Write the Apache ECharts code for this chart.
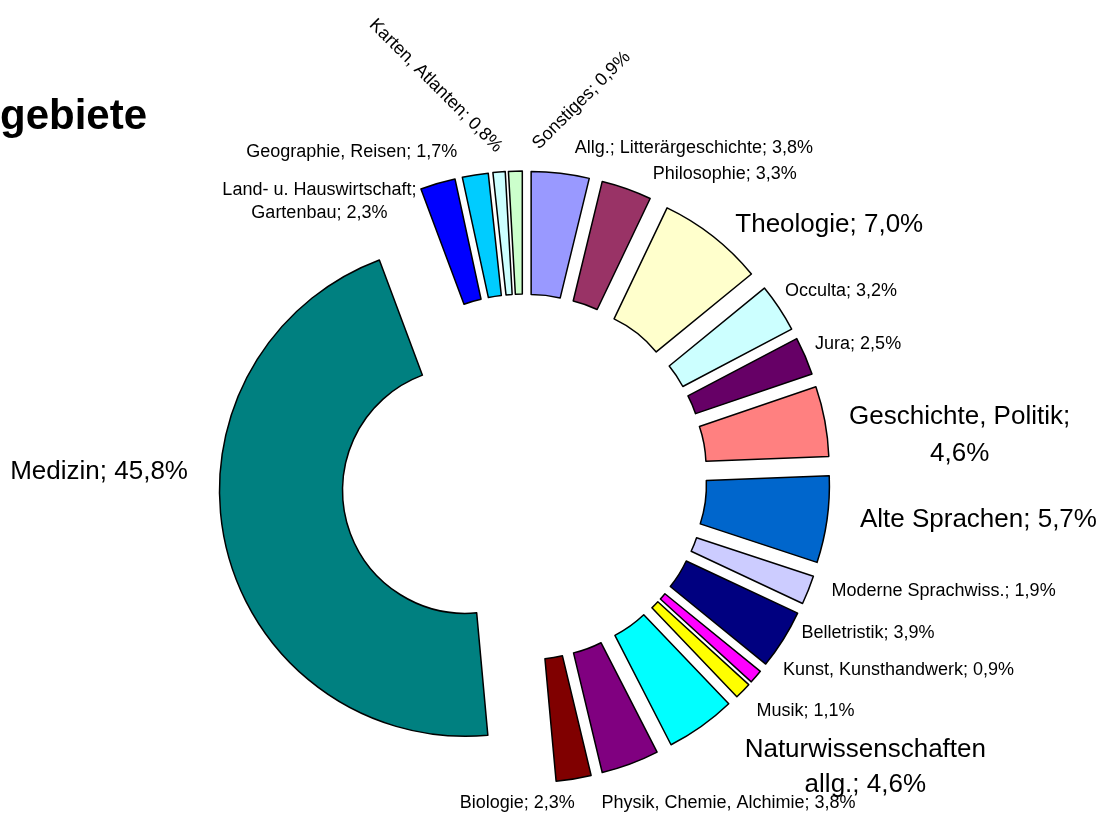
<!DOCTYPE html>
<html>
<head>
<meta charset="utf-8">
<script src="https://cdn.jsdelivr.net/npm/echarts@6/dist/echarts.min.js"></script>
<style>
	html, body { margin: 0; padding: 0; background: #fff; }
	#pie { width: 1105px; height: 814px; }
</style>
</head>
<body>
<div id="pie"></div>
<script>
//Kategorien (im Uhrzeigersinn ab 12 Uhr)
var names = [
	'Allg.; Litterärgeschichte','Philosophie','Theologie','Occulta','Jura',
	'Geschichte, Politik','Alte Sprachen','Moderne Sprachwiss.','Belletristik',
	'Kunst, Kunsthandwerk','Musik','Naturwissenschaften allg.','Physik, Chemie, Alchimie',
	'Biologie','Medizin','Land- u. Hauswirtschaft; Gartenbau','Geographie, Reisen',
	'Karten, Atlanten','Sonstiges'
];
//Anteile in %
var values = [
	3.8, 3.3, 7.0, 3.2, 2.5,
	4.6, 5.7, 1.9, 3.9,
	0.9, 1.1, 4.6, 3.8,
	2.3, 45.8, 2.3, 1.7,
	0.8, 0.9
];
var colors = [
	'#9999ff','#993366','#ffffcc','#ccffff','#660066',
	'#ff8080','#0066cc','#ccccff','#000080',
	'#ff00ff','#ffff00','#00ffff','#800080',
	'#800000','#008080','#0000ff','#00ccff',
	'#ccffff','#ccffcc'
];

//große Beschriftungen
var bigLabels = [2, 5, 6, 11, 14];
//Zeilenumbruch nach diesem Text
var labelBreak = {
	5: 'Politik; ',
	11: 'Naturwissenschaften ',
	15: 'Hauswirtschaft; '
};
//Verschiebung / Ausrichtung der Beschriftungen (bei gedrehten Texten im gedrehten System)
var labelOffsets = {
	0:  { dx: 8,    dy: -13 },
	1:  { dx: 17,   dy: -3 },
	2:  { dx: 10,   dy: -2 },
	3:  { dx: -9,   dy: -10 },
	4:  { dx: -6,   dy: -7 },
	5:  { dx: 118,  dy: 16,  align: 'center', lineHeight: 37 },
	6:  { dx: 16,   dy: -1 },
	7:  { dx: 7,    dy: -3 },
	8:  { dx: 3,    dy: -13 },
	9:  { dx: 13,   dy: -14 },
	10: { dx: 0,    dy: 12 },
	11: { dx: 152,  dy: 31,  align: 'center', lineHeight: 35 },
	12: { dx: -38,  dy: 28 },
	13: { dx: -121, dy: 12 },
	14: { dx: -21,  dy: -76 },
	15: { dx: -110, dy: 30,  align: 'center', lineHeight: 23 },
	16: { dx: -11,  dy: -11 },
	17: { dx: -3,   dy: -12, rotate: -45 },
	18: { dx: 27,   dy: 9,   rotate: 45, align: 'left' }
};

function fmtLabel(p)
{
	var txt = p.name + '; ' + p.value.toFixed(1).replace('.', ',') + '%';
	var br = labelBreak[p.dataIndex];
	if (br) {
		var k = txt.indexOf(br) + br.length;
		txt = txt.substring(0, k).replace(/\s+$/, '') + '\n' + txt.substring(k);
	}
	return txt;
}

function loadChartPie()
{
	var myChart = echarts.init(document.getElementById('pie'));

	var data = [];
	for (var i = 0; i < names.length; i++) {
		var lbl = { fontSize: bigLabels.indexOf(i) >= 0 ? 26 : 18 };
		var off = labelOffsets[i];
		if (off.lineHeight) { lbl.lineHeight = off.lineHeight; lbl.align = off.align; }
		if (off.rotate) { lbl.rotate = off.rotate; }
		data.push({
			name: names[i],
			value: values[i],
			selected: true,
			itemStyle: { color: colors[i] },
			label: lbl
		});
	}

	var option = {
		animation: false,
		backgroundColor: '#ffffff',
		title: {
			text: 'gebiete',
			left: 0,
			top: 96,
			padding: 0,
			textStyle: {
				fontFamily: 'Liberation Sans',
				fontSize: 42,
				fontWeight: 'bold',
				color: '#000'
			}
		},
		series: [
			{
				name: 'Sachgebiete',
				type: 'pie',
				center: [524, 477],
				radius: [123, 246],
				startAngle: 90,
				clockwise: true,
				selectedMode: 'multiple',
				selectedOffset: 60,
				avoidLabelOverlap: false,
				itemStyle: { borderColor: '#000', borderWidth: 1.5 },
				select: { itemStyle: { borderColor: '#000', borderWidth: 1.5 } },
				emphasis: { disabled: true },
				label: {
					show: true,
					position: 'outside',
					fontFamily: 'Liberation Sans',
					color: '#000',
					formatter: fmtLabel
				},
				labelLine: { show: false, length: 12, length2: 0 },
				labelLayout: function (params) {
					var off = labelOffsets[params.dataIndex];
					var res = { dx: off.dx, dy: off.dy, hideOverlap: false, moveOverlap: false };
					if (off.align) { res.align = off.align; }
					return res;
				},
				data: data
			}
		]
	};

	myChart.setOption(option);
}

loadChartPie();
</script>
</body>
</html>
